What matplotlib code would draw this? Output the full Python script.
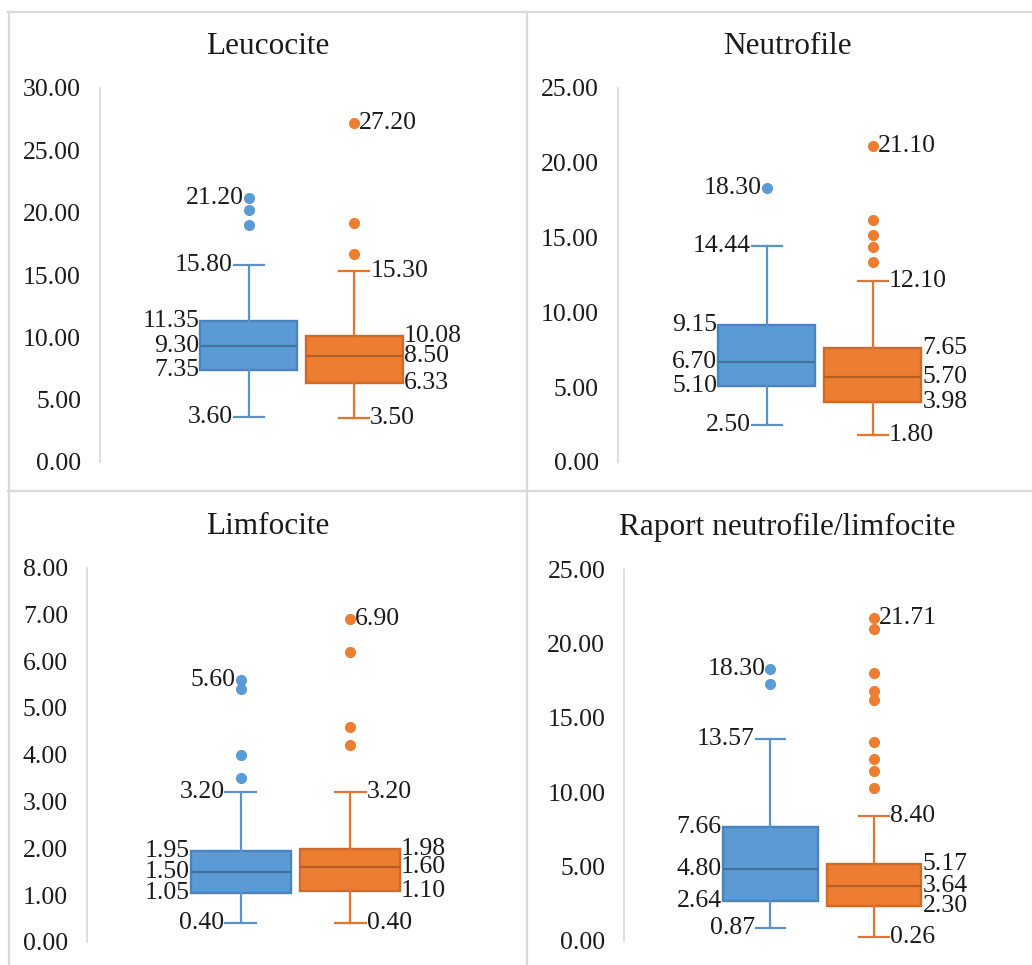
import matplotlib
matplotlib.use("Agg")
import matplotlib.pyplot as plt
from matplotlib.lines import Line2D

plt.rcParams["font.family"] = ["Liberation Serif", "DejaVu Serif"]

# ---- data: [lower whisker, Q1, median, Q3, upper whisker] ----
titles = ["Leucocite", "Neutrofile", "Limfocite", "Raport neutrofile/limfocite"]

leuco_a = [3.60, 7.35, 9.30, 11.35, 15.80]
leuco_a_out = [21.20, 20.20, 19.00]
leuco_b = [3.50, 6.33, 8.50, 10.08, 15.30]
leuco_b_out = [27.20, 19.20, 16.70]

neutro_a = [2.50, 5.10, 6.70, 9.15, 14.44]
neutro_a_out = [18.30]
neutro_b = [1.80, 3.98, 5.70, 7.65, 12.10]
neutro_b_out = [21.10, 16.20, 15.20, 14.40, 13.40]

limfo_a = [0.40, 1.05, 1.50, 1.95, 3.20]
limfo_a_out = [5.60, 5.40, 4.00, 3.50]
limfo_b = [0.40, 1.10, 1.60, 1.98, 3.20]
limfo_b_out = [6.90, 6.20, 4.60, 4.20]

nlr_a = [0.87, 2.64, 4.80, 7.66, 13.57]
nlr_a_out = [18.30, 17.30]
nlr_b = [0.26, 2.30, 3.64, 5.17, 8.40]
nlr_b_out = [21.71, 21.00, 18.00, 16.80, 16.20, 13.40, 12.20, 11.40, 10.30]

y_max = [30, 25, 8, 25]
y_step = [5, 5, 1, 5]

panels = [
    (leuco_a, leuco_a_out, leuco_b, leuco_b_out),
    (neutro_a, neutro_a_out, neutro_b, neutro_b_out),
    (limfo_a, limfo_a_out, limfo_b, limfo_b_out),
    (nlr_a, nlr_a_out, nlr_b, nlr_b_out),
]

# ---- layout (pixels) ----
W, H = 1032, 965
fig = plt.figure(figsize=(W / 100, H / 100), dpi=100)
fig.patch.set_facecolor("white")

axes_px = [
    (100, 88, 503, 462),
    (617.7, 88, 1022, 462),
    (87, 567.5, 504, 942),
    (624.3, 569.3, 1020, 940.5),
]
title_px = [(268, 47), (787, 47), (268, 527), (787, 527)]

series_style = [
    dict(fill="#5B9BD5", edge="#4A83BE", med="#41719C", whisk="#5A93CC"),
    dict(fill="#ED7D31", edge="#D0692A", med="#B35E26", whisk="#E27530"),
]
positions = [0.369, 0.631]
box_w = 0.24
cap_w = 0.074
FS = 18.5
PX = 0.72  # points per pixel


def fmt(v):
    return f"{v:.2f}"


for i, (a, a_out, b, b_out) in enumerate(panels):
    l, t, r, btm = axes_px[i]
    ax = fig.add_axes([l / W, 1 - btm / H, (r - l) / W, (btm - t) / H])
    ax.set_xlim(0, 1)
    ax.set_ylim(0, y_max[i])
    ax.set_facecolor("none")

    for j, (s, out) in enumerate([(a, a_out), (b, b_out)]):
        st = series_style[j]
        stats = [dict(whislo=s[0], q1=s[1], med=s[2], q3=s[3], whishi=s[4],
                      fliers=out)]
        ax.bxp(stats, positions=[positions[j]], widths=box_w, capwidths=cap_w,
               patch_artist=True, showfliers=True,
               boxprops=dict(facecolor=st["fill"], edgecolor=st["edge"], linewidth=1.7),
               medianprops=dict(color=st["med"], linewidth=1.6),
               whiskerprops=dict(color=st["whisk"], linewidth=1.6),
               capprops=dict(color=st["whisk"], linewidth=1.6),
               flierprops=dict(marker="o", markersize=7, markerfacecolor=st["fill"],
                               markeredgecolor=st["fill"], linestyle="none"),
               manage_ticks=False)

        x = positions[j]
        sign = -1 if j == 0 else 1
        ha = "right" if j == 0 else "left"
        box_edge = x + sign * box_w / 2
        cap_edge = x + sign * cap_w / 2
        # quartile labels beside the box
        for v in (s[1], s[2], s[3]):
            ax.annotate(fmt(v), (box_edge, v), xytext=(sign * 1 * PX, 0),
                        textcoords="offset points", ha=ha, va="center",
                        fontsize=FS, color="#1a1a1a")
        # whisker labels beside the caps
        for v in (s[0], s[4]):
            ax.annotate(fmt(v), (cap_edge, v), xytext=(sign * 1 * PX, 0),
                        textcoords="offset points", ha=ha, va="center",
                        fontsize=FS, color="#1a1a1a")
        # largest outlier label
        top = max(out)
        ax.annotate(fmt(top), (x, top), xytext=(sign * 5 * PX, 0),
                    textcoords="offset points", ha=ha, va="center",
                    fontsize=FS, color="#1a1a1a")

    ticks = [k * y_step[i] for k in range(int(y_max[i] / y_step[i]) + 1)]
    ax.set_yticks(ticks)
    ax.set_yticklabels([fmt(v) for v in ticks])
    ax.tick_params(axis="y", length=0, pad=19 * PX, labelsize=FS, labelcolor="#1a1a1a")
    ax.set_xticks([])
    for side in ("top", "right", "bottom"):
        ax.spines[side].set_visible(False)
    ax.spines["left"].set_color("#D9D9D9")
    ax.spines["left"].set_linewidth(1.2)

    tx, ty = title_px[i]
    fig.text(tx / W, 1 - ty / H, titles[i], ha="center", va="center",
             fontsize=22.5, color="#1a1a1a")

# panel frame lines
border = "#D9D9D9"
frame = [
    ((8, 1032), (12, 12)),
    ((8.5, 8.5), (12, 965)),
    ((526.5, 526.5), (12, 965)),
    ((8, 1032), (490.7, 490.7)),
]
for xs, ys in frame:
    fig.add_artist(Line2D([xs[0] / W, xs[1] / W], [1 - ys[0] / H, 1 - ys[1] / H],
                          transform=fig.transFigure, color=border, linewidth=1.6))

fig.savefig("out.png", dpi=100)
